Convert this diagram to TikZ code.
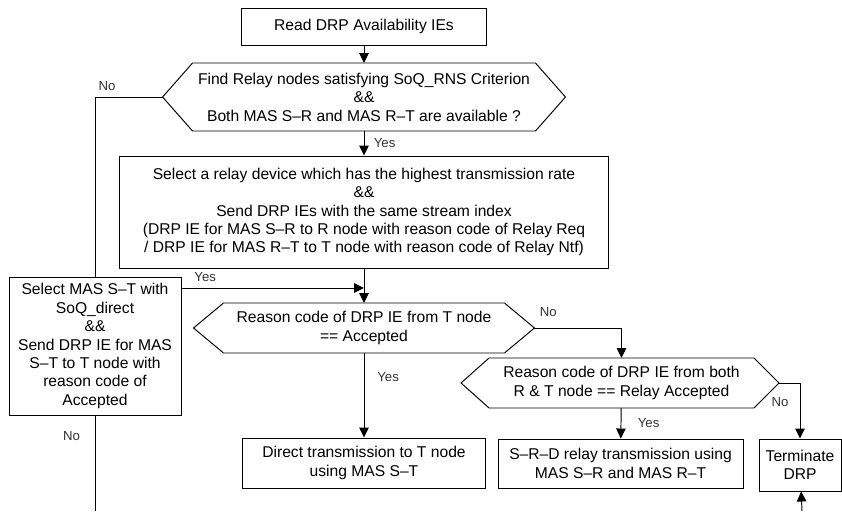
\documentclass[tikz,border=0pt]{standalone}
\usepackage{fontspec}
\setmainfont{Liberation Sans}
\usetikzlibrary{positioning,arrows.meta,calc}

\begin{document}
\begin{tikzpicture}[x=0.02cm,y=-0.02cm,line width=0.55pt,
  box/.style={draw,align=center,inner sep=1pt,font=\fontsize{8.9}{10.5}\selectfont},
  cond/.style={align=center,inner sep=0pt,outer sep=0pt,font=\fontsize{8.9}{10.5}\selectfont},
  lbl/.style={font=\fontsize{7.5}{8}\selectfont,text=black!80},
  arr/.style={-{Triangle[length=0.2cm,width=0.19cm]}}]

\useasboundingbox (0,0) rectangle (842,511);

\node[box,minimum width=4.9cm,minimum height=0.74cm] (read) at (364,26.5) {Read DRP Availability IEs};

\node[cond,minimum width=6.86cm,minimum height=1.36cm] (d1) at (364,97) {Find Relay nodes satisfying SoQ\_RNS Criterion\\\&\&\\Both MAS S--R and MAS R--T are available ?};
\draw (d1.north west) -- (d1.north east) -- ([xshift=0.6cm]d1.east) coordinate (d1r) -- (d1.south east) -- (d1.south west) -- ([xshift=-0.6cm]d1.west) coordinate (d1l) -- cycle;

\node[box,minimum width=9.8cm,minimum height=2.24cm] (sel) at (364,212) {Select a relay device which has the highest transmission rate\\\&\&\\Send DRP IEs with the same stream index\\(DRP IE for MAS S--R to R node with reason code of Relay Req\\/ DRP IE for MAS R--T to T node with reason code of Relay Ntf)};

\node[box,minimum width=3.44cm,minimum height=2.76cm] (st) at (95,346) {Select MAS S--T with\\SoQ\_direct\\\&\&\\Send DRP IE for MAS\\S--T to T node with\\reason code of\\Accepted};

\node[cond,minimum width=5.62cm,minimum height=1cm] (d2) at (364,328) {Reason code of DRP IE from T node\\== Accepted};
\draw (d2.north west) -- (d2.north east) -- ([xshift=0.6cm]d2.east) coordinate (d2r) -- (d2.south east) -- (d2.south west) -- ([xshift=-0.6cm]d2.west) coordinate (d2l) -- cycle;

\node[box,minimum width=4.86cm,minimum height=1cm] (direct) at (364,463) {Direct transmission to T node\\using MAS S--T};

\node[cond,minimum width=5.3cm,minimum height=1cm] (d3) at (621.5,383) {Reason code of DRP IE from both\\R \& T node == Relay Accepted};
\draw (d3.north west) -- (d3.north east) -- ([xshift=0.5cm]d3.east) coordinate (d3r) -- (d3.south east) -- (d3.south west) -- ([xshift=-0.56cm]d3.west) coordinate (d3l) -- cycle;

\node[box,minimum width=4.9cm,minimum height=0.98cm] (srd) at (620.5,463.5) {S--R--D relay transmission using\\MAS S--R and MAS R--T};

\node[box,minimum width=1.64cm,minimum height=1.04cm] (term) at (800,465) {Terminate\\DRP};

\coordinate (yesin) at (364,288);
\coordinate (stout) at (95,511);
\coordinate (termin) at (802,511);

\draw[arr] (read) -- (d1);
\draw[arr] (d1) -- node[lbl,right=2pt] {Yes} (sel);
\draw (d1l) -| node[lbl,pos=0.41,above] {No} (st.north);
\draw[arr] (sel) -- (d2);
\draw[arr] (st.east |- yesin) -- node[lbl,pos=0.13,above] {Yes} (yesin);
\draw[arr] (d2) -- node[lbl,pos=0.28,right=4pt] {Yes} (direct);
\draw[arr] (d2r) -| node[lbl,pos=0.08,above=3pt] {No} (d3.north);
\draw[arr] (d3) -- node[lbl,right=6pt] {Yes} (srd);
\draw[arr] (d3r) -| node[lbl,pos=0.67,left=3pt] {No} (term.north);
\draw (st) -- node[lbl,pos=0.22,left=5pt] {No} (stout);
\draw[arr] (termin) -- (term);

\end{tikzpicture}
\end{document}
